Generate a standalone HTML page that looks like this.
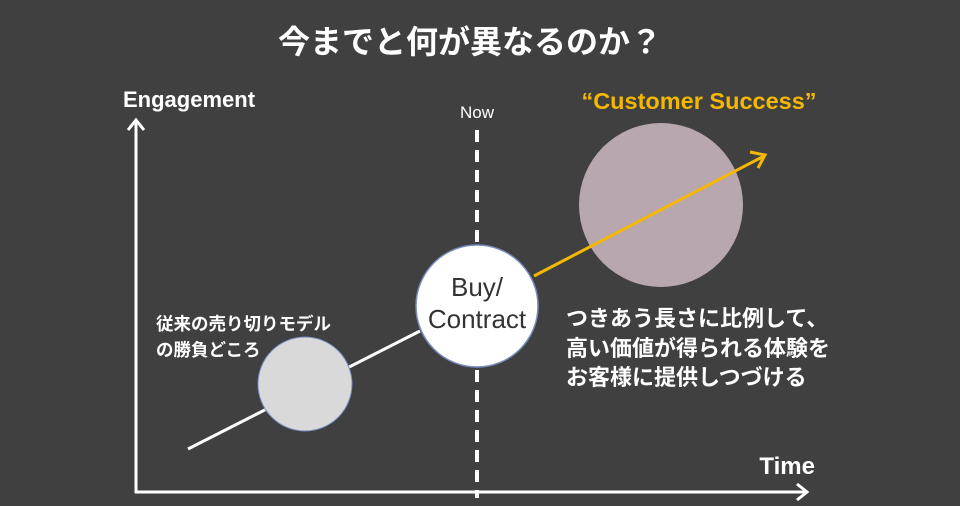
<!DOCTYPE html>
<html><head><meta charset="utf-8"><style>
html,body{margin:0;padding:0;background:#404040;}
svg{display:block;}
text{font-family:"Liberation Sans","Noto Sans CJK JP",sans-serif;}
</style></head><body>
<svg width="960" height="506" viewBox="0 0 960 506" xmlns="http://www.w3.org/2000/svg">
<rect width="960" height="506" fill="#404040"/>
<text x="470" y="53" font-size="32" font-weight="bold" fill="#fff" text-anchor="middle">今までと何が異なるのか？</text>
<text x="123" y="107" font-size="22" font-weight="bold" fill="#fff">Engagement</text>
<text x="477" y="118" font-size="17" fill="#fff" text-anchor="middle">Now</text>
<text x="699" y="109" font-size="23.5" font-weight="bold" fill="#f5b800" text-anchor="middle">“Customer Success”</text>
<text x="815" y="474" font-size="24" font-weight="bold" fill="#fff" text-anchor="end">Time</text>
<line x1="136" y1="120" x2="136" y2="493" stroke="#fff" stroke-width="3"/>
<polyline points="128,130 136,120 144,130" fill="none" stroke="#fff" stroke-width="3"/>
<line x1="135" y1="492" x2="807" y2="492" stroke="#fff" stroke-width="3"/>
<polyline points="797,484 807,492 797,500" fill="none" stroke="#fff" stroke-width="3"/>
<line x1="477" y1="130" x2="477" y2="498" stroke="#fff" stroke-width="4" stroke-dasharray="12,8"/>
<line x1="188" y1="449" x2="420" y2="331" stroke="#fff" stroke-width="3"/>
<circle cx="661" cy="205" r="82" fill="#b9a7b0"/>
<line x1="534" y1="276" x2="764" y2="156" stroke="#f5b800" stroke-width="3"/>
<polyline points="750,152 765,155 758,168" fill="none" stroke="#f5b800" stroke-width="3"/>
<circle cx="305" cy="384" r="47" fill="#d9d9d9" stroke="#7a8cbf" stroke-width="1"/>
<circle cx="477" cy="306" r="61" fill="#fff" stroke="#7a8cbf" stroke-width="1.5"/>
<text x="477" y="296" font-size="26" fill="#333" text-anchor="middle">Buy/</text>
<text x="477" y="328" font-size="26" fill="#333" text-anchor="middle">Contract</text>
<text x="156" y="330" font-size="17.5" font-weight="bold" fill="#fff">従来の売り切りモデル</text>
<text x="156" y="356" font-size="17.5" font-weight="bold" fill="#fff">の勝負どころ</text>
<text x="566" y="326" font-size="22" font-weight="bold" fill="#fff">つきあう長さに比例して、</text>
<text x="566" y="356" font-size="22" font-weight="bold" fill="#fff">高い価値が得られる体験を</text>
<text x="566" y="385" font-size="22" font-weight="bold" fill="#fff">お客様に提供しつづける</text>
</svg>
</body></html>
